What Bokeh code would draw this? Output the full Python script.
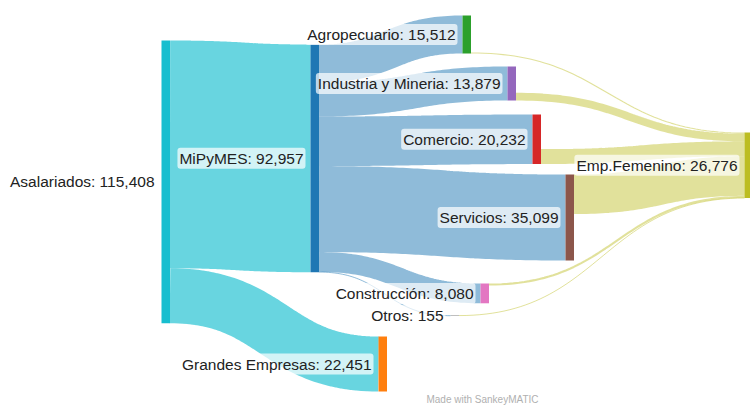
import numpy as np
from bokeh.plotting import figure
from bokeh.models import Range1d, ColumnDataSource
from bokeh.core.properties import value
from bokeh.embed import file_html
from bokeh.resources import INLINE

# ---------------- data ----------------
node_names = ["Asalariados", "MiPyMES", "Grandes Empresas", "Agropecuario",
              "Industria y Mineria", "Comercio", "Servicios", "Construcción",
              "Otros", "Emp.Femenino"]
node_values = [115408, 92957, 22451, 15512, 13879, 20232, 35099, 8080, 155, 26776]

flow_sources = ["Asalariados", "Asalariados",
                "MiPyMES", "MiPyMES", "MiPyMES", "MiPyMES", "MiPyMES", "MiPyMES",
                "Agropecuario", "Industria y Mineria", "Comercio", "Servicios",
                "Construcción", "Otros"]
flow_targets = ["MiPyMES", "Grandes Empresas",
                "Agropecuario", "Industria y Mineria", "Comercio", "Servicios",
                "Construcción", "Otros",
                "Emp.Femenino", "Emp.Femenino", "Emp.Femenino", "Emp.Femenino",
                "Emp.Femenino", "Emp.Femenino"]
flow_values = [92957, 22451,
               15512, 13879, 20232, 35099, 8080, 155,
               450, 3150, 6100, 16150, 866, 60]

# ---------------- styling / layout ----------------
node_colors = {"Asalariados": "#17becf", "MiPyMES": "#1f77b4",
               "Grandes Empresas": "#ff7f0e", "Agropecuario": "#2ca02c",
               "Industria y Mineria": "#9467bd", "Comercio": "#d62728",
               "Servicios": "#8c564b", "Construcción": "#e377c2",
               "Otros": "#7f7f7f", "Emp.Femenino": "#bcbd22"}
# node placement (left edge, top edge) in page pixels
node_left = {"Asalariados": 161, "MiPyMES": 310, "Grandes Empresas": 378,
             "Agropecuario": 462, "Industria y Mineria": 507, "Comercio": 532,
             "Servicios": 565, "Construcción": 480, "Otros": 450,
             "Emp.Femenino": 744}
node_top = {"Asalariados": 40, "MiPyMES": 44, "Grandes Empresas": 336,
            "Agropecuario": 15, "Industria y Mineria": 66, "Comercio": 114,
            "Servicios": 174, "Construcción": 283, "Otros": 315,
            "Emp.Femenino": 132}
out_anchor = {"Agropecuario": "bottom", "Industria y Mineria": "bottom",
              "Comercio": "bottom"}
NODE_W = 8.5
SCALE = 0.00245   # px per worker

W, H = 750, 406
p = figure(width=W, height=H, output_backend="svg", toolbar_location=None,
           x_range=Range1d(0, W), y_range=Range1d(H, 0),
           x_axis_location=None, y_axis_location=None, min_border=0)
p.grid.visible = False
p.outline_line_color = None
p.background_fill_color = "white"

def height(v):
    return v * SCALE

vals = dict(zip(node_names, node_values))

# ---------------- flows ----------------
out_cursor = {}
in_cursor = {}
for n in node_names:
    out_total = sum(v for s, v in zip(flow_sources, flow_values) if s == n)
    if out_anchor.get(n) == "bottom":
        out_cursor[n] = node_top[n] + height(vals[n]) - height(out_total)
    else:
        out_cursor[n] = node_top[n]
    in_cursor[n] = node_top[n]

xs, ys, widths, colors, alphas = [], [], [], [], []
t = np.linspace(0, 1, 60)
for s, tg, v in zip(flow_sources, flow_targets, flow_values):
    h = height(v)
    y0 = out_cursor[s] + h / 2
    y1 = in_cursor[tg] + h / 2
    out_cursor[s] += h
    in_cursor[tg] += h
    x0 = node_left[s] + NODE_W
    x1 = node_left[tg]
    xm = (x0 + x1) / 2
    bx = (1 - t) ** 3 * x0 + 3 * (1 - t) ** 2 * t * xm + 3 * (1 - t) * t ** 2 * xm + t ** 3 * x1
    by = (1 - t) ** 3 * y0 + 3 * (1 - t) ** 2 * t * y0 + 3 * (1 - t) * t ** 2 * y1 + t ** 3 * y1
    xs.append(list(bx))
    ys.append(list(by))
    widths.append(max(h, 1.0))
    if tg == "Emp.Femenino":
        colors.append(node_colors[tg]); alphas.append(0.45)
    elif s == "Asalariados":
        colors.append(node_colors[s]); alphas.append(0.65)
    else:
        colors.append(node_colors[s]); alphas.append(0.5)

p.multi_line(xs="xs", ys="ys", line_width="w", line_color="c", line_alpha="a",
             line_cap="butt",
             source=ColumnDataSource(dict(xs=xs, ys=ys, w=widths, c=colors, a=alphas)))

# ---------------- nodes ----------------
nl = [node_left[n] for n in node_names]
nr = [node_left[n] + NODE_W for n in node_names]
nt = [node_top[n] for n in node_names]
nb = [node_top[n] + max(height(v), 0.5) for n, v in zip(node_names, node_values)]
nc = [node_colors[n] for n in node_names]
p.quad(left=nl, right=nr, top=nt, bottom=nb, fill_color=nc, line_color=None)

# ---------------- labels ----------------
lx = [node_left[n] - 5 for n in node_names]
ly = [node_top[n] + height(v) / 2 for n, v in zip(node_names, node_values)]
lt = [f"{n}: {v:,}" for n, v in zip(node_names, node_values)]
p.text(x=lx, y=ly, text=lt, text_align="right", text_baseline="middle",
       text_font=value("Liberation Sans"), text_font_size="15.5px",
       text_color="#222222",
       background_fill_color="white", background_fill_alpha=0.7,
       padding=2, border_radius=3)

p.text(x=[482], y=[399], text=["Made with SankeyMATIC"], text_align="center",
       text_baseline="middle", text_font=value("Liberation Sans"),
       text_font_size="10px", text_color="#b0b0b0")

open("out.html", "w").write(file_html(p, INLINE))
